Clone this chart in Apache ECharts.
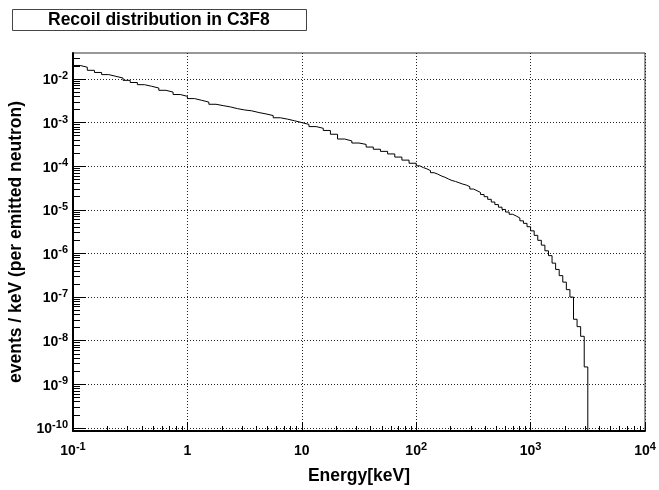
<!DOCTYPE html>
<html>
<head>
<meta charset="utf-8">
<script src="https://cdn.jsdelivr.net/npm/echarts@6/dist/echarts.min.js"></script>
<style>
  html, body { margin: 0; padding: 0; background: #fff; }
  #chart { width: 659px; height: 490px; }
</style>
</head>
<body>
<div id="chart"></div>
<script>
// histogram binning: log bins from 0.1 keV, 16 per decade up to 100 keV, 32 per decade above
const eLow = 0.1;
const eSplit = 100;
const binsPerDecadeLow = 16;
const binsPerDecadeHigh = 32;
// events / keV, bins below 100 keV
const countsLow = [
  2.04e-2, 1.86e-2, 1.58e-2, 1.41e-2, 1.26e-2, 1.15e-2, 1.05e-2, 9.3e-3,
  8.3e-3, 7.4e-3, 6.8e-3, 6.2e-3, 5.5e-3, 5.0e-3, 4.4e-3, 4.0e-3,
  3.55e-3, 3.24e-3, 2.95e-3, 2.63e-3, 2.45e-3, 2.29e-3, 2.09e-3, 1.95e-3,
  1.86e-3, 1.70e-3, 1.58e-3, 1.45e-3, 1.29e-3, 1.20e-3, 1.10e-3, 1.00e-3,
  9.1e-4, 8.1e-4, 7.4e-4, 6.6e-4, 5.4e-4, 4.2e-4, 3.8e-4, 3.4e-4,
  3.16e-4, 2.75e-4, 2.45e-4, 2.19e-4, 1.91e-4, 1.62e-4, 1.38e-4, 1.17e-4
];
// events / keV, bins above 100 keV
const countsHigh = [
  1.02e-4, 9.3e-5, 8.7e-5, 7.9e-5, 7.1e-5, 6.6e-5, 6.0e-5, 5.6e-5,
  5.1e-5, 4.7e-5, 4.47e-5, 4.17e-5, 3.9e-5, 3.7e-5, 3.4e-5, 3.0e-5,
  2.75e-5, 2.5e-5, 2.24e-5, 2.0e-5, 1.74e-5, 1.51e-5, 1.32e-5, 1.15e-5,
  1.02e-5, 8.9e-6, 7.9e-6, 7.2e-6, 6.5e-6, 5.6e-6, 4.9e-6, 4.1e-6,
  3.3e-6, 2.6e-6, 2.0e-6, 1.55e-6, 1.15e-6, 8.9e-7, 6.0e-7, 4.3e-7,
  3.1e-7, 2.2e-7, 1.48e-7, 1.0e-7, 3.1e-8, 2.1e-8, 1.26e-8, 2.5e-9
];
const xMajor = [0.1, 1, 10, 100, 1000, 10000];
const xMinor = [0.2, 0.3, 0.4, 0.5, 0.6, 0.7, 0.8, 0.9, 2, 3, 4, 5, 6, 7, 8, 9,
  20, 30, 40, 50, 60, 70, 80, 90, 200, 300, 400, 500, 600, 700, 800, 900,
  2000, 3000, 4000, 5000, 6000, 7000, 8000, 9000];
const yMajor = [1e-10, 1e-9, 1e-8, 1e-7, 1e-6, 1e-5, 1e-4, 1e-3, 1e-2];
const yMinor = [
  2e-10, 3e-10, 4e-10, 5e-10, 6e-10, 7e-10, 8e-10, 9e-10,
  2e-9, 3e-9, 4e-9, 5e-9, 6e-9, 7e-9, 8e-9, 9e-9,
  2e-8, 3e-8, 4e-8, 5e-8, 6e-8, 7e-8, 8e-8, 9e-8,
  2e-7, 3e-7, 4e-7, 5e-7, 6e-7, 7e-7, 8e-7, 9e-7,
  2e-6, 3e-6, 4e-6, 5e-6, 6e-6, 7e-6, 8e-6, 9e-6,
  2e-5, 3e-5, 4e-5, 5e-5, 6e-5, 7e-5, 8e-5, 9e-5,
  2e-4, 3e-4, 4e-4, 5e-4, 6e-4, 7e-4, 8e-4, 9e-4,
  2e-3, 3e-3, 4e-3, 5e-3, 6e-3, 7e-3, 8e-3, 9e-3,
  2e-2, 3e-2
];
const xMin = 0.1, xMax = 10000;
const yMin = 8.5e-11, yMax = 0.0394;

const font = "'Liberation Sans', Arial, sans-serif";

// step outline of the histogram
const steps = [];
function addBins(start, perDecade, values) {
  let last = start;
  values.forEach((v, k) => {
    const e0 = start * Math.pow(10, k / perDecade);
    const e1 = start * Math.pow(10, (k + 1) / perDecade);
    steps.push([e0, v], [e1, v]);
    last = e1;
  });
  return last;
}
addBins(eLow, binsPerDecadeLow, countsLow);
const eEnd = addBins(eSplit, binsPerDecadeHigh, countsHigh);
steps.push([eEnd, 1e-12]);

function powLabel(v) {
  const p = Math.round(Math.log10(v));
  if (p === 0) return '{b|1}';
  if (p === 1) return '{b|10}';
  return '{b|10}{s|' + p + '}';
}
const labelRich = {
  b: { fontSize: 14, fontWeight: 'bold', fontFamily: font, color: '#000', lineHeight: 17, verticalAlign: 'bottom' },
  s: { fontSize: 11, fontWeight: 'bold', fontFamily: font, color: '#000', lineHeight: 17, verticalAlign: 'top' }
};

const chart = echarts.init(document.getElementById('chart'));
const option = {
  animation: false,
  backgroundColor: '#fff',
  title: {
    text: 'Recoil distribution in C3F8',
    left: 12,
    top: 9,
    padding: [2, 37, 2, 36],
    borderColor: '#444',
    borderWidth: 1,
    textStyle: { fontSize: 17.5, fontWeight: 'bold', fontFamily: font, color: '#000', lineHeight: 18 }
  },
  grid: {
    left: 73, right: 14, top: 53, bottom: 59,
    outerBoundsMode: 'none',
    containLabel: false,
    show: true, borderColor: '#333', borderWidth: 1, backgroundColor: 'transparent'
  },
  xAxis: [
    {
      type: 'log', logBase: 10, min: xMin, max: xMax, position: 'bottom',
      name: 'Energy[keV]', nameLocation: 'middle', nameGap: 36,
      nameTextStyle: { fontSize: 17.5, fontWeight: 'bold', fontFamily: font, color: '#000' },
      axisLine: { lineStyle: { color: '#000', width: 2 } },
      axisTick: { inside: true, length: 9, customValues: xMajor, lineStyle: { color: '#000', width: 1 } },
      axisLabel: { customValues: xMajor, margin: 10, formatter: powLabel, rich: labelRich },
      splitLine: { show: true, lineStyle: { color: '#222', width: 1, type: [1, 2] } }
    },
    {
      type: 'log', logBase: 10, min: xMin, max: xMax, position: 'bottom',
      axisLine: { show: false },
      axisTick: { inside: true, length: 5, customValues: xMinor, lineStyle: { color: '#000', width: 1 } },
      axisLabel: { show: false },
      splitLine: { show: false }
    }
  ],
  yAxis: [
    {
      type: 'log', logBase: 10, min: yMin, max: yMax, position: 'left',
      name: 'events / keV (per emitted neutron)', nameLocation: 'middle', nameGap: 47,
      nameTextStyle: { fontSize: 17.5, fontWeight: 'bold', fontFamily: font, color: '#000' },
      axisLine: { lineStyle: { color: '#000', width: 2 } },
      axisTick: { inside: true, length: 13, customValues: yMajor, lineStyle: { color: '#000', width: 1 } },
      axisLabel: { customValues: yMajor, margin: 5, formatter: powLabel, rich: labelRich },
      splitLine: { show: true, lineStyle: { color: '#222', width: 1, type: [1, 2] } }
    },
    {
      type: 'log', logBase: 10, min: yMin, max: yMax, position: 'left',
      axisLine: { show: false },
      axisTick: { inside: true, length: 7, customValues: yMinor, lineStyle: { color: '#000', width: 1 } },
      axisLabel: { show: false },
      splitLine: { show: false }
    }
  ],
  series: [
    {
      type: 'line',
      xAxisIndex: 0,
      yAxisIndex: 0,
      data: steps,
      showSymbol: false,
      clip: true,
      lineStyle: { color: '#000', width: 1 }
    }
  ]
};
chart.setOption(option);
window.addEventListener('resize', () => {
  chart && chart.resize();
});
</script>
</body>
</html>
